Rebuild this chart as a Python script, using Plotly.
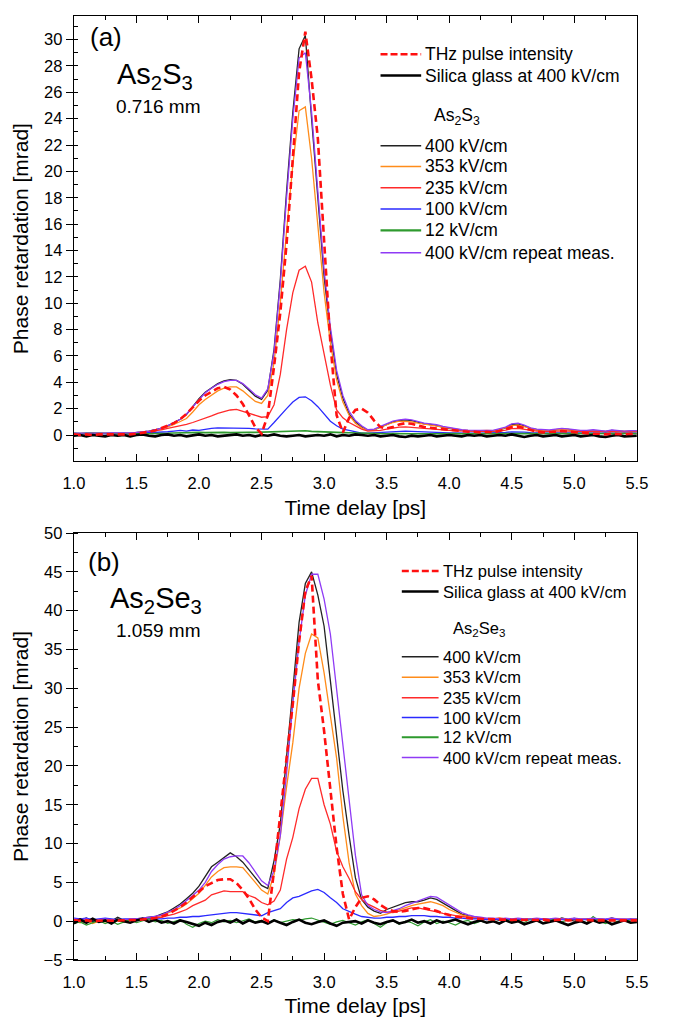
import plotly.graph_objects as go

# ---------------- shared time grid (ps) ----------------
T = [1.00, 1.05, 1.10, 1.15, 1.20, 1.25, 1.30, 1.35, 1.40, 1.45,
     1.50, 1.55, 1.60, 1.65, 1.70, 1.75, 1.80, 1.85, 1.90, 1.95,
     2.00, 2.05, 2.10, 2.15, 2.20, 2.25, 2.30, 2.35, 2.40, 2.45,
     2.50, 2.55, 2.60, 2.65, 2.70, 2.75, 2.80, 2.85, 2.90, 2.95,
     3.00, 3.05, 3.10, 3.15, 3.20, 3.25, 3.30, 3.35, 3.40, 3.45,
     3.50, 3.55, 3.60, 3.65, 3.70, 3.75, 3.80, 3.85, 3.90, 3.95,
     4.00, 4.05, 4.10, 4.15, 4.20, 4.25, 4.30, 4.35, 4.40, 4.45,
     4.50, 4.55, 4.60, 4.65, 4.70, 4.75, 4.80, 4.85, 4.90, 4.95,
     5.00, 5.05, 5.10, 5.15, 5.20, 5.25, 5.30, 5.35, 5.40, 5.45, 5.50]

# ---------------- (a) As2S3, 0.716 mm ----------------
thz_a = [0.05, 0.0, 0.05, 0.0, 0.05, 0.05, 0.0, 0.05, 0.05, 0.05,
         0.1, 0.15, 0.25, 0.35, 0.5, 0.7, 0.9, 1.2, 1.6, 2.1,
         2.6, 3.0, 3.3, 3.55, 3.65, 3.45, 3.0, 2.35, 1.5, 0.6,
         0.1, 1.5, 5.2, 9.3, 14.5, 21.0, 27.5, 30.6, 27.0, 22.5,
         14.5, 7.0, 1.5, 0.2, 1.3, 1.9, 2.0, 1.7, 1.1, 0.6,
         0.5, 0.6, 0.8, 0.9, 0.85, 0.7, 0.6, 0.55, 0.5, 0.45,
         0.35, 0.3, 0.3, 0.25, 0.25, 0.2, 0.25, 0.2, 0.3, 0.45,
         0.6, 0.65, 0.5, 0.35, 0.25, 0.2, 0.2, 0.25, 0.3, 0.25,
         0.2, 0.15, 0.15, 0.1, 0.1, 0.05, 0.1, 0.05, 0.05, 0.1, 0.05]

silica_a = [-0.05, 0.0, -0.1, 0.0, -0.05, -0.1, 0.0, -0.05, 0.0, -0.1,
            0.0, 0.05, -0.05, -0.1, 0.0, 0.05, -0.05, 0.0, -0.1, 0.0,
            0.05, -0.05, 0.0, -0.1, -0.05, 0.0, 0.05, -0.05, 0.0, -0.1,
            0.0, -0.05, 0.05, -0.05, -0.1, -0.05, 0.0, -0.1, -0.05, 0.0,
            -0.05, 0.05, -0.1, 0.0, -0.05, 0.05, 0.0, -0.05, 0.0, -0.1,
            -0.05, 0.0, -0.1, -0.15, -0.05, -0.1, -0.05, 0.0, -0.1, -0.05,
            0.0, -0.05, -0.1, 0.0, -0.05, 0.0, -0.1, -0.05, 0.0, -0.05,
            0.05, -0.05, -0.15, -0.05, 0.0, -0.1, -0.05, 0.0, -0.1, -0.05,
            0.0, -0.1, -0.05, 0.0, -0.1, -0.15, -0.05, 0.0, -0.1, -0.05, -0.05]

f400_a = [0.1, 0.08, 0.1, 0.12, 0.1, 0.1, 0.12, 0.1, 0.12, 0.14,
          0.18, 0.22, 0.3, 0.4, 0.52, 0.7, 0.92, 1.2, 1.55, 2.15,
          2.75, 3.25, 3.6, 3.9, 4.1, 4.2, 4.15, 3.85, 3.4, 2.95,
          2.7, 3.4, 6.5, 11.8, 18.5, 24.5, 29.3, 30.3, 24.0, 18.0,
          12.0, 7.9, 4.6, 2.8, 1.6, 1.0, 0.6, 0.35, 0.4, 0.6,
          0.8, 1.0, 1.1, 1.15, 1.1, 0.95, 0.85, 0.8, 0.72, 0.6,
          0.5, 0.42, 0.35, 0.33, 0.3, 0.3, 0.32, 0.3, 0.4, 0.55,
          0.8, 0.85, 0.7, 0.5, 0.4, 0.35, 0.3, 0.4, 0.45, 0.42,
          0.35, 0.3, 0.3, 0.35, 0.3, 0.25, 0.35, 0.3, 0.25, 0.3, 0.3]

f353_a = [0.1, 0.1, 0.12, 0.1, 0.12, 0.1, 0.12, 0.12, 0.14, 0.15,
          0.18, 0.22, 0.28, 0.36, 0.48, 0.62, 0.8, 1.0, 1.25, 1.75,
          2.3, 2.7, 3.05, 3.35, 3.55, 3.65, 3.65, 3.35, 2.95, 2.55,
          2.4, 3.0, 5.5, 10.0, 15.5, 20.5, 24.6, 24.9, 21.0, 16.0,
          10.8, 7.0, 4.2, 2.5, 1.5, 0.9, 0.55, 0.35, 0.4, 0.6,
          0.8, 0.95, 1.05, 1.05, 1.0, 0.9, 0.82, 0.78, 0.7, 0.6,
          0.5, 0.43, 0.38, 0.35, 0.33, 0.33, 0.35, 0.33, 0.4, 0.55,
          0.72, 0.75, 0.62, 0.48, 0.4, 0.36, 0.33, 0.4, 0.42, 0.4,
          0.35, 0.32, 0.3, 0.33, 0.3, 0.28, 0.32, 0.3, 0.27, 0.3, 0.3]

f235_a = [0.1, 0.1, 0.1, 0.12, 0.1, 0.1, 0.12, 0.1, 0.12, 0.12,
          0.15, 0.2, 0.25, 0.3, 0.4, 0.5, 0.6, 0.67, 0.8, 0.95,
          1.1, 1.25, 1.45, 1.65, 1.8, 1.9, 1.95, 1.8, 1.6, 1.45,
          1.35, 1.4, 2.3, 4.6, 8.0, 10.8, 12.5, 12.8, 11.6, 8.5,
          6.0, 3.8, 1.9, 1.3, 0.95, 0.7, 0.45, 0.3, 0.3, 0.35,
          0.45, 0.55, 0.6, 0.62, 0.6, 0.55, 0.5, 0.45, 0.42, 0.4,
          0.35, 0.32, 0.3, 0.28, 0.27, 0.27, 0.28, 0.27, 0.3, 0.38,
          0.48, 0.5, 0.42, 0.35, 0.3, 0.28, 0.26, 0.3, 0.32, 0.3,
          0.28, 0.25, 0.25, 0.27, 0.25, 0.22, 0.25, 0.24, 0.22, 0.24, 0.24]

f100_a = [0.1, 0.08, 0.1, 0.1, 0.08, 0.1, 0.1, 0.08, 0.1, 0.1,
          0.12, 0.12, 0.15, 0.17, 0.2, 0.25, 0.3, 0.35, 0.3, 0.38,
          0.35, 0.45, 0.5, 0.55, 0.55, 0.55, 0.55, 0.52, 0.5, 0.47,
          0.45, 0.45, 0.95, 1.5, 2.0, 2.5, 2.85, 2.9, 2.6, 2.15,
          1.6, 1.05, 0.7, 0.45, 0.35, 0.25, 0.15, 0.15, 0.18, 0.2,
          0.22, 0.25, 0.28, 0.3, 0.28, 0.25, 0.22, 0.2, 0.2, 0.18,
          0.17, 0.15, 0.15, 0.14, 0.14, 0.14, 0.15, 0.15, 0.17, 0.2,
          0.24, 0.25, 0.22, 0.18, 0.16, 0.15, 0.15, 0.16, 0.18, 0.17,
          0.16, 0.15, 0.15, 0.15, 0.14, 0.13, 0.15, 0.14, 0.13, 0.14, 0.14]

f12_a = [0.15, 0.12, 0.15, 0.14, 0.12, 0.15, 0.13, 0.12, 0.14, 0.12,
         0.1, 0.12, 0.1, 0.12, 0.15, 0.13, 0.15, 0.17, 0.15, 0.18,
         0.2, 0.18, 0.2, 0.17, 0.2, 0.18, 0.2, 0.18, 0.2, 0.2,
         0.22, 0.2, 0.22, 0.25, 0.27, 0.3, 0.33, 0.32, 0.28, 0.25,
         0.23, 0.2, 0.2, 0.18, 0.17, 0.15, 0.15, 0.13, 0.12, 0.12,
         0.1, 0.12, 0.1, 0.12, 0.1, 0.1, 0.12, 0.1, 0.1, 0.12,
         0.1, 0.12, 0.1, 0.1, 0.12, 0.1, 0.12, 0.1, 0.12, 0.1,
         0.12, 0.15, 0.12, 0.1, 0.12, 0.1, 0.1, 0.12, 0.1, 0.12,
         0.1, 0.1, 0.12, 0.1, 0.12, 0.1, 0.1, 0.12, 0.1, 0.1, 0.12]

rep_a = [0.15, 0.14, 0.15, 0.16, 0.15, 0.15, 0.16, 0.15, 0.16, 0.17,
         0.2, 0.24, 0.3, 0.4, 0.52, 0.7, 0.92, 1.2, 1.6, 2.15,
         2.7, 3.2, 3.55, 3.85, 4.05, 4.15, 4.15, 3.9, 3.5, 3.05,
         2.8, 3.5, 6.3, 11.5, 18.0, 24.0, 28.6, 29.0, 24.5, 18.5,
         12.5, 8.2, 4.9, 3.0, 1.8, 1.1, 0.7, 0.4, 0.45, 0.65,
         0.85, 1.05, 1.15, 1.2, 1.15, 1.0, 0.9, 0.85, 0.78, 0.65,
         0.55, 0.47, 0.4, 0.37, 0.35, 0.35, 0.36, 0.35, 0.45, 0.6,
         0.85, 0.9, 0.75, 0.55, 0.45, 0.4, 0.38, 0.45, 0.5, 0.47,
         0.4, 0.35, 0.35, 0.4, 0.35, 0.3, 0.38, 0.35, 0.3, 0.33, 0.33]

# ---------------- (b) As2Se3, 1.059 mm ----------------
thz_b = [0.1, 0.05, 0.1, 0.0, 0.05, 0.1, 0.05, 0.1, 0.1, 0.15,
         0.15, 0.2, 0.3, 0.4, 0.6, 0.9, 1.3, 1.8, 2.4, 3.1,
         3.8, 4.5, 4.9, 5.3, 5.4, 5.4, 4.9, 4.0, 2.9, 1.5,
         0.5, 0.0, 6.5, 14.0, 21.0, 28.0, 36.0, 42.5, 44.5, 31.0,
         24.5, 17.0, 9.5, 3.5, 0.2, 1.8, 3.0, 3.2, 2.8, 2.1,
         1.6, 1.3, 1.2, 1.3, 1.5, 1.7, 1.7, 1.5, 1.3, 1.0,
         0.8, 0.6, 0.5, 0.4, 0.3, 0.3, 0.25, 0.2, 0.2, 0.2,
         0.15, 0.2, 0.15, 0.2, 0.15, 0.2, 0.1, 0.15, 0.2, 0.1,
         0.15, 0.1, 0.15, 0.1, 0.1, 0.15, 0.1, 0.1, 0.15, 0.1, 0.1]

silica_b = [-0.3, 0.2, -0.2, 0.3, -0.1, 0.1, -0.3, 0.2, 0.0, -0.2,
            0.1, 0.3, -0.1, 0.2, -0.2, 0.0, -0.3, 0.1, -0.1, -0.4,
            -0.6, -0.2, -0.5, -0.1, 0.1, -0.2, 0.2, -0.3, 0.1, -0.2,
            0.0, -0.3, 0.1, -0.2, -0.5, -0.1, 0.2, -0.2, -0.4, -0.1,
            0.1, -0.3, -0.6, -0.2, -0.1, 0.0, -0.3, 0.1, -0.2, -0.4,
            -0.1, 0.1, -0.3, -0.1, 0.2, -0.2, 0.0, -0.3, 0.1, -0.2,
            0.0, 0.2, -0.1, -0.4, -0.1, 0.1, -0.2, 0.0, -0.3, 0.1,
            -0.2, 0.0, -0.4, -0.1, 0.1, -0.3, -0.1, 0.1, -0.2, -0.5,
            -0.2, 0.0, -0.3, 0.1, -0.2, 0.0, -0.4, -0.1, 0.1, -0.2, -0.1]

f400_b = [0.2, 0.1, 0.4, -0.1, 0.2, 0.1, 0.0, 0.5, 0.1, 0.2,
          0.3, 0.4, 0.5, 0.6, 0.9, 1.2, 1.7, 2.2, 2.9, 3.6,
          4.5, 5.8, 7.0, 7.6, 8.2, 8.8, 8.3, 7.6, 6.6, 5.6,
          4.6, 4.2, 7.8, 12.5, 21.0, 29.5, 38.5, 43.5, 45.0, 42.0,
          38.0, 31.0, 23.8, 16.8, 11.0, 5.6, 2.8, 1.8, 1.3, 1.0,
          1.5, 1.8, 2.1, 2.4, 2.5, 2.5, 2.7, 3.0, 2.8, 2.3,
          1.9, 1.3, 0.9, 0.7, 0.5, 0.4, 0.2, 0.3, 0.1, 0.3,
          0.2, 0.1, 0.3, 0.2, 0.0, 0.3, 0.2, 0.1, 0.4, 0.2,
          0.0, 0.2, 0.3, 0.1, 0.3, 0.2, 0.4, 0.2, 0.1, 0.3, 0.2]

f353_b = [0.0, -0.2, 0.1, -0.3, 0.0, -0.1, 0.1, 0.0, -0.1, 0.1,
          0.2, 0.3, 0.4, 0.5, 0.7, 1.0, 1.3, 1.7, 2.2, 2.9,
          3.6, 4.6, 5.7, 6.4, 6.9, 7.0, 7.0, 6.9, 6.0, 5.0,
          4.0, 3.5, 6.0, 11.0, 17.3, 23.0, 30.0, 34.5, 37.0, 36.5,
          32.0, 26.5, 21.0, 13.5, 7.5, 3.5, 2.0, 1.0, 0.6, 0.7,
          0.9, 1.2, 1.5, 1.8, 2.0, 2.2, 2.4, 2.5, 2.3, 2.0,
          1.5, 1.1, 0.8, 0.6, 0.5, 0.4, 0.3, 0.3, 0.4, 0.3,
          0.3, 0.2, 0.3, 0.3, 0.2, 0.3, 0.2, 0.3, 0.3, 0.2,
          0.3, 0.2, 0.3, 0.2, 0.3, 0.2, 0.3, 0.2, 0.3, 0.2, 0.3]

f235_b = [0.1, 0.2, 0.0, 0.1, 0.2, 0.0, 0.1, 0.2, 0.1, 0.1,
          0.2, 0.2, 0.3, 0.4, 0.5, 0.7, 0.9, 1.2, 1.5, 2.0,
          2.3, 2.7, 3.4, 3.6, 3.9, 3.8, 3.8, 3.8, 3.3, 3.0,
          2.4, 2.1, 2.6, 4.0, 8.0, 10.8, 14.5, 17.0, 18.4, 18.4,
          15.0, 12.5, 9.0, 7.0, 5.5, 3.8, 2.8, 2.2, 1.8, 1.4,
          1.2, 1.1, 1.3, 1.5, 1.7, 1.7, 1.5, 1.3, 1.2, 1.0,
          0.8, 0.7, 0.6, 0.5, 0.4, 0.4, 0.3, 0.3, 0.4, 0.3,
          0.2, 0.3, 0.2, 0.3, 0.2, 0.3, 0.2, 0.2, 0.3, 0.2,
          0.2, 0.3, 0.2, 0.2, 0.3, 0.2, 0.2, 0.3, 0.2, 0.2, 0.2]

f100_b = [0.4, 0.3, 0.4, 0.2, 0.3, 0.4, 0.3, 0.2, 0.3, 0.3,
          0.3, 0.2, 0.3, 0.3, 0.3, 0.4, 0.4, 0.5, 0.5, 0.6,
          0.6, 0.7, 0.8, 0.9, 1.0, 1.1, 1.1, 1.0, 0.9, 0.8,
          0.7, 1.1, 1.4, 1.6, 2.4, 3.0, 3.2, 3.6, 3.9, 4.1,
          3.7, 3.0, 2.4, 1.6, 1.2, 0.9, 0.6, 0.5, 0.4, 0.4,
          0.5, 0.5, 0.6, 0.6, 0.7, 0.7, 0.7, 0.6, 0.6, 0.5,
          0.5, 0.4, 0.4, 0.3, 0.3, 0.3, 0.2, 0.3, 0.2, 0.3,
          0.2, 0.3, 0.2, 0.2, 0.3, 0.2, 0.2, 0.3, 0.2, 0.2,
          0.3, 0.2, 0.2, 0.3, 0.2, 0.2, 0.3, 0.2, 0.2, 0.2, 0.2]

f12_b = [-0.3, -0.1, -0.5, -0.2, 0.1, -0.3, 0.0, -0.4, -0.1, 0.2,
         -0.2, 0.0, 0.3, -0.1, 0.1, -0.3, 0.0, 0.2, -0.4, -0.8,
         -0.3, 0.0, -0.2, 0.2, -0.1, 0.1, -0.2, 0.0, 0.3, -0.1,
         0.1, -0.3, 0.2, -0.2, 0.0, 0.2, 0.1, 0.3, 0.4, 0.1,
         -0.1, -0.4, -0.1, 0.1, -0.2, -0.5, -0.1, 0.2, -0.3, -0.8,
         -0.2, 0.1, -0.4, 0.0, -0.2, -0.6, -0.1, 0.2, -0.3, 0.0,
         -0.2, -0.5, -0.1, 0.1, -0.3, 0.0, -0.2, 0.1, -0.3, 0.2,
         -0.1, 0.1, -0.2, 0.3, 0.0, -0.2, 0.1, 0.3, -0.1, 0.2,
         0.4, 0.1, -0.2, 0.6, 0.0, -0.3, 0.1, -0.1, 0.2, 0.0, 0.3]

rep_b = [0.3, 0.2, 0.3, 0.1, 0.2, 0.3, 0.2, 0.1, 0.2, 0.3,
         0.3, 0.4, 0.5, 0.6, 0.8, 1.1, 1.5, 2.0, 2.6, 3.3,
         4.0, 5.0, 6.4, 7.3, 8.0, 8.3, 8.4, 8.4, 7.5, 6.3,
         5.2, 4.6, 6.5, 11.0, 19.0, 28.0, 36.0, 42.0, 44.7, 44.7,
         41.5, 37.0, 30.0, 22.5, 15.5, 8.5, 3.4, 2.0, 1.5, 1.2,
         1.1, 1.3, 1.6, 2.0, 2.3, 2.6, 2.9, 3.2, 3.1, 2.6,
         2.1, 1.6, 1.1, 0.8, 0.6, 0.5, 0.4, 0.4, 0.3, 0.4,
         0.3, 0.4, 0.3, 0.3, 0.4, 0.3, 0.3, 0.4, 0.3, 0.3,
         0.4, 0.3, 0.3, 0.4, 0.3, 0.3, 0.4, 0.3, 0.3, 0.3, 0.3]

# ---------------- labels / styling ----------------
FIELD_LABELS = ["400 kV/cm", "353 kV/cm", "235 kV/cm", "100 kV/cm", "12 kV/cm",
                "400 kV/cm repeat meas."]
FIELD_COLORS = ["#222222", "#FF8C1A", "#FF2A2A", "#2A2AFF", "#2E9A2E", "#8F3BF5"]
THZ_LABEL = "THz pulse intensity"
SILICA_LABEL = "Silica glass at 400 kV/cm"
THZ_COLOR = "#FF1010"
X_TICKS = [1.0, 1.5, 2.0, 2.5, 3.0, 3.5, 4.0, 4.5, 5.0, 5.5]
Y_TICKS_A = [0, 2, 4, 6, 8, 10, 12, 14, 16, 18, 20, 22, 24, 26, 28, 30]
Y_TICKS_B = [-5, 0, 5, 10, 15, 20, 25, 30, 35, 40, 45, 50]
Y_RANGE_A = [-2, 31.8]
Y_RANGE_B = [-5, 50]

FONT = "Liberation Sans, Arial, sans-serif"

# The page body keeps its default 8 px margin, so the figure is sized to
# fill the rest of the 682x1030 window and page coordinates are offset.
PAGE_W, PAGE_H, BODY = 682, 1030, 8
W, H = PAGE_W - BODY, PAGE_H - BODY


def px(x):
    return (x - BODY) / W


def py(y):
    return 1 - (y - BODY) / H


panels = [
    dict(xa="x", ya="y", series=[f400_a, f353_a, f235_a, f100_a, f12_a, rep_a],
         thz=thz_a, silica=silica_a, green_w=1.6),
    dict(xa="x2", ya="y2", series=[f400_b, f353_b, f235_b, f100_b, f12_b, rep_b],
         thz=thz_b, silica=silica_b, green_w=1.2),
]

fig = go.Figure()
for p in panels:
    for vals, col, name in zip(p["series"], FIELD_COLORS, FIELD_LABELS):
        w = p["green_w"] if name == "12 kV/cm" else 1.3
        fig.add_trace(go.Scatter(x=T, y=vals, mode="lines", name=name,
                                 line=dict(color=col, width=w),
                                 xaxis=p["xa"], yaxis=p["ya"], showlegend=False))
    fig.add_trace(go.Scatter(x=T, y=p["silica"], mode="lines", name=SILICA_LABEL,
                             line=dict(color="black", width=2.6),
                             xaxis=p["xa"], yaxis=p["ya"], showlegend=False))
    fig.add_trace(go.Scatter(x=T, y=p["thz"], mode="lines", name=THZ_LABEL,
                             line=dict(color=THZ_COLOR, width=2.6, dash="7px,4px"),
                             xaxis=p["xa"], yaxis=p["ya"], showlegend=False))

TICKFONT = dict(family=FONT, size=16.5, color="black")
line_style = dict(showline=True, linecolor="black", linewidth=1.4,
                  showgrid=False, zeroline=False)
minor_in = dict(ticks="inside", ticklen=4, tickwidth=1.2, tickcolor="black")

x_dom = [px(73), px(655)]
xaxis_cfg = dict(line_style, mirror="ticks", ticks="inside", ticklen=7, tickwidth=1.3,
                 tickcolor="black", tickfont=TICKFONT,
                 range=[1.0, 5.5], tickvals=X_TICKS, tickformat=".1f",
                 ticklabelstandoff=7,
                 minor=dict(minor_in, dtick=0.25, tick0=1.0),
                 title=dict(text="Time delay [ps]", font=dict(family=FONT, size=21, color="black"),
                            standoff=8))
ytitle = dict(text="Phase retardation [mrad]", font=dict(family=FONT, size=21, color="black"),
              standoff=9)

# left axis: labelled, major ticks pointing out, minor ticks pointing in
yleft = dict(line_style, mirror=True, ticks="outside", ticklen=7, tickwidth=1.3,
             tickcolor="black", tickfont=TICKFONT, title=ytitle)
# right axis: unlabelled, all ticks pointing in
yright = dict(showline=False, showgrid=False, zeroline=False, side="right",
              ticks="inside", ticklen=7, tickwidth=1.3, tickcolor="black",
              showticklabels=False)

fig.update_layout(
    width=W, height=H, margin=dict(l=0, r=0, t=0, b=0),
    paper_bgcolor="white", plot_bgcolor="white",
    xaxis=dict(xaxis_cfg, domain=x_dom, anchor="y"),
    yaxis=dict(yleft, domain=[py(468.5), py(15)], anchor="x",
               range=Y_RANGE_A, tickvals=Y_TICKS_A,
               minor=dict(minor_in, dtick=1, tick0=0)),
    yaxis3=dict(yright, overlaying="y", anchor="x", range=Y_RANGE_A, tickvals=Y_TICKS_A,
                minor=dict(minor_in, dtick=1, tick0=0)),
    xaxis2=dict(xaxis_cfg, domain=x_dom, anchor="y2"),
    yaxis2=dict(yleft, domain=[py(976), py(541.5)], anchor="x2",
                range=Y_RANGE_B, tickvals=Y_TICKS_B,
                minor=dict(minor_in, dtick=2.5, tick0=0)),
    yaxis4=dict(yright, overlaying="y2", anchor="x2", range=Y_RANGE_B, tickvals=Y_TICKS_B,
                minor=dict(minor_in, dtick=2.5, tick0=0)),
)

annotations = []
shapes = []


def text(x, y, s, size, anchor="left"):
    annotations.append(dict(x=px(x), y=py(y), xref="paper", yref="paper", text=s,
                            showarrow=False, xanchor=anchor, yanchor="middle",
                            font=dict(family=FONT, size=size, color="black")))


# panel captions
text(88, 37, "(a)", 26)
text(116, 76, "As<sub>2</sub>S<sub>3</sub>", 29)
text(114, 107, "0.716 mm", 19)
text(86, 571, "(b)", 26)
text(108, 610, "As<sub>2</sub>Se<sub>3</sub>", 29)
text(114, 641, "1.059 mm", 19)


def legend(x0, x1, tx, rows_top, header_y, header_x, rows, header, size):
    shapes.append(dict(type="line", xref="paper", yref="paper", x0=px(x0), x1=px(x1),
                       y0=py(rows_top[0]), y1=py(rows_top[0]),
                       line=dict(color=THZ_COLOR, width=2.6, dash="7px,3px")))
    text(tx, rows_top[0], THZ_LABEL, size)
    shapes.append(dict(type="line", xref="paper", yref="paper", x0=px(x0), x1=px(x1),
                       y0=py(rows_top[1]), y1=py(rows_top[1]),
                       line=dict(color="black", width=2.6)))
    text(tx, rows_top[1], SILICA_LABEL, size)
    text(header_x, header_y, header, size, anchor="center")
    for yy, col, name in zip(rows, FIELD_COLORS, FIELD_LABELS):
        w = 2.2 if name == "12 kV/cm" else 1.5
        shapes.append(dict(type="line", xref="paper", yref="paper", x0=px(x0), x1=px(x1),
                           y0=py(yy), y1=py(yy), line=dict(color=col, width=w)))
        text(tx, yy, name, size)


legend(390, 432, 434, [54, 75.7], 117, 469, [147.3, 168.3, 190, 211.7, 233.3, 256],
       "As<sub>2</sub>S<sub>3</sub>", 17.5)
legend(412, 450, 452, [580, 601], 639.5, 492, [667.3, 688.3, 709, 729.3, 749.3, 770],
       "As<sub>2</sub>Se<sub>3</sub>", 16.5)

fig.update_layout(annotations=annotations, shapes=shapes)
fig.write_html("out.html")
